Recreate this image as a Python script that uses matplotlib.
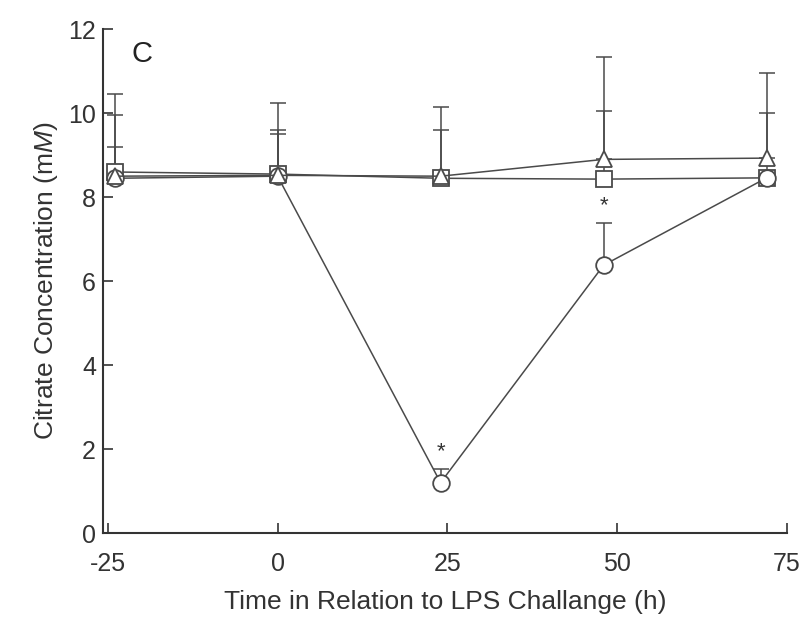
import matplotlib
matplotlib.use("Agg")
import matplotlib.pyplot as plt

plt.rcParams['font.family'] = ['Liberation Sans', 'DejaVu Sans']
plt.rcParams['mathtext.fontset'] = 'custom'
plt.rcParams['mathtext.rm'] = 'Liberation Sans'
plt.rcParams['mathtext.it'] = 'Liberation Sans:italic'
plt.rcParams['axes.unicode_minus'] = False

hours = [-24, 0, 24, 48, 72]

# mean citrate (mM) per group
circle_y = [8.45, 8.5, 1.2, 6.38, 8.46]
square_y = [8.6, 8.55, 8.45, 8.43, 8.46]
triangle_y = [8.5, 8.52, 8.5, 8.9, 8.93]

# upper error bar tops
circle_top = [9.2, 9.5, 1.52, 7.38, 8.46]
square_top = [9.95, 9.6, 9.6, 10.05, 10.0]
triangle_top = [10.45, 10.24, 10.15, 11.33, 10.95]

star_x = [24, 48]
star_y = [1.93, 7.8]

col = '#4a4a4a'

fig = plt.figure(figsize=(8.08, 6.22), dpi=100)
ax = fig.add_axes([0.1275, 0.143, 0.8465, 0.81])


def draw(y, top, marker, ms):
    err = [[0] * len(y), [t - v for t, v in zip(top, y)]]
    ax.errorbar(hours, y, yerr=err, fmt='none', ecolor=col, elinewidth=1.1,
                capsize=6, capthick=1.1, zorder=2)
    ax.plot(hours, y, color=col, lw=1.1, marker=marker, ms=ms,
            mfc='white', mec=col, mew=1.3, zorder=3)


draw(square_y, square_top, 's', 11)
draw(circle_y, circle_top, 'o', 12)
draw(triangle_y, triangle_top, '^', 12)

for sx, sy in zip(star_x, star_y):
    ax.text(sx, sy, '*', ha='center', va='center', fontsize=16, color='#333333')

ax.text(-21.5, 11.4, 'C', fontsize=21, ha='left', va='center', color='#222222')

ax.set_xlim(-25.7, 75)
ax.set_ylim(0, 12)
ax.set_xticks([-25, 0, 25, 50, 75])
ax.set_yticks([0, 2, 4, 6, 8, 10, 12])
ax.tick_params(direction='in', length=7, width=1.2, labelsize=18,
               colors='#333333')
ax.tick_params(axis='x', pad=14)
ax.tick_params(axis='y', pad=5)
for s in ['top', 'right']:
    ax.spines[s].set_visible(False)
for s in ['left', 'bottom']:
    ax.spines[s].set_linewidth(1.5)
    ax.spines[s].set_color('#333333')

ax.set_xlabel('Time in Relation to LPS Challange (h)', fontsize=19,
              color='#333333', labelpad=10)
ax.set_ylabel('Citrate Concentration (m$\\mathit{M}$)', fontsize=19,
              color='#333333', labelpad=6)

fig.savefig('out.png', dpi=100)
